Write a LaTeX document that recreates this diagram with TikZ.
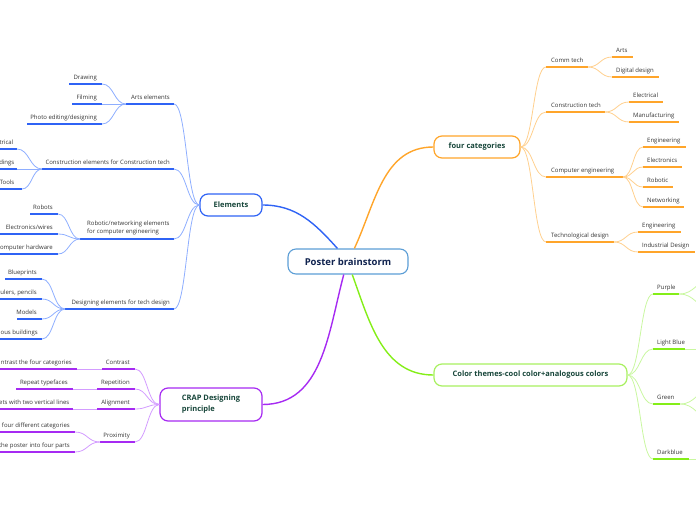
\documentclass[tikz,border=0pt]{standalone}
\usepackage{fontspec}
\setmainfont{Open Sans}
\usetikzlibrary{calc}
\definecolor{bl}{HTML}{2F63F5}
\definecolor{blL}{HTML}{8EAEFF}
\definecolor{pu}{HTML}{A62AF2}
\definecolor{puL}{HTML}{D39CFF}
\definecolor{orr}{HTML}{FFA52A}
\definecolor{orL}{HTML}{FFD08E}
\definecolor{gr}{HTML}{84EE18}
\definecolor{grB}{HTML}{A8F060}
\definecolor{grL}{HTML}{C9F7A0}
\definecolor{cen}{HTML}{5C9ED6}
\definecolor{txt}{HTML}{333333}
\definecolor{ntxt}{HTML}{17463A}
\definecolor{ctxt}{HTML}{10234F}
\tikzset{
  lbl/.style={font=\fontsize{6}{8}\selectfont, text=txt, inner sep=0pt},
  topic/.style={draw, rounded corners=8pt, fill=white, line width=1.2pt,
    font=\fontsize{7.5}{11}\selectfont\bfseries, text=ntxt, inner sep=0pt, align=left},
  ul/.style={line width=2pt},
  fine/.style={line width=0.8pt},
  mainb/.style={line width=1.4pt},
  sc/.style={to path={let \p1=(\tikztostart),\p2=(\tikztotarget) in
    .. controls ({(\x1+\x2)/2},\y1) and ({(\x1+\x2)/2},\y2) .. (\tikztotarget)}}
}
% left item: name, L, R, y, text right x, color, text
\newcommand\litem[7]{%
  \coordinate (#1-l) at (#2,#4);
  \coordinate (#1-r) at (#3,#4);
  \draw[ul,#6] (#1-l) -- (#1-r);
  \node[lbl,anchor=base east] (#1) at (#5,{#4-4.6}) {#7};}
% right item: name, L, R, y, text left x, color, text
\newcommand\ritem[7]{%
  \coordinate (#1-l) at (#2,#4);
  \coordinate (#1-r) at (#3,#4);
  \draw[ul,#6] (#1-l) -- (#1-r);
  \node[lbl,anchor=base west] (#1) at (#5,{#4-4.8}) {#7};}
\begin{document}
\begin{tikzpicture}[x=1pt,y=-1pt]
\useasboundingbox (0,0) rectangle (696,520);
\clip (0,0) rectangle (696,520);

% ---------- topic nodes ----------
\node[topic, draw=cen, line width=1.1pt, minimum width=120, minimum height=25,
  font=\fontsize{9.5}{11}\selectfont\bfseries, text=ctxt] (root) at (348,261.5) {Poster brainstorm};
\node[topic, draw=bl, minimum width=62, minimum height=22] (elem) at (231,205) {Elements};
\node[topic, draw=orr, minimum width=86, minimum height=22] (four) at (477,147) {four categories};
\node[topic, draw=grB, minimum width=193, minimum height=22] (color) at (530.5,375) {Color themes-cool color+analogous colors};
\node[topic, draw=pu, minimum width=102, minimum height=33] (crap) at (211,404.5) {CRAP Designing\\principle};

% ---------- main branches ----------
\draw[mainb,bl] (root.129) to[out=132,in=0] (elem.east);
\draw[mainb,orr] (root.64) to[out=65,in=180] (four.west);
\draw[mainb,pu] (root.-108) to[out=-105,in=0] (crap.east);
\draw[mainb,gr] (root.-72) to[out=-70,in=180] (color.west);

% ---------- Elements ----------
\litem{arts}{126}{174}{104}{170}{bl}{Arts elements}
\litem{draw}{69}{102}{84}{97}{bl}{Drawing}
\litem{film}{72}{102}{104}{97}{bl}{Filming}
\litem{photo}{27}{102}{124}{97}{bl}{Photo editing/designing}
\litem{cons}{42}{174}{169}{170}{bl}{Construction elements for Construction tech}
\litem{elec}{-20}{17}{149}{13.5}{bl}{trical}
\litem{build}{-20}{17}{169}{14.5}{bl}{dings}
\litem{tools}{-20}{22}{189}{14.5}{bl}{Tools}
\coordinate (robo-l) at (80,239);
\coordinate (robo-r) at (174,239);
\draw[ul,bl] (robo-l) -- (robo-r);
\node[lbl,anchor=south west,align=left] (robo) at (87,235.6) {Robotic/networking elements\\for computer engineering};
\litem{robots}{30}{58}{214}{53}{bl}{Robots}
\litem{wires}{-20}{58}{234}{53}{bl}{Electronics/wires}
\litem{hard}{-20}{58}{254}{53}{bl}{omputer hardware}
\litem{des}{65}{174}{309}{170}{bl}{Designing elements for tech design}
\litem{blue}{5}{42}{279}{37}{bl}{Blueprints}
\litem{rul}{-20}{42}{299}{37}{bl}{ulers, pencils}
\litem{mod}{17}{42}{319}{37}{bl}{Models}
\litem{fam}{-20}{42}{339}{38}{bl}{ous buildings}

\begin{scope}[fine,blL]
\draw (elem.west) to[sc] (arts-r);
\draw (elem.west) to[sc] (cons-r);
\draw (elem.west) to[sc] (robo-r);
\draw (elem.west) to[sc] (des-r);
\draw (draw-r) to[sc] (arts-l);
\draw (film-r) to[sc] (arts-l);
\draw (photo-r) to[sc] (arts-l);
\draw (elec-r) to[sc] (cons-l);
\draw (build-r) to[sc] (cons-l);
\draw (tools-r) to[sc] (cons-l);
\draw (robots-r) to[sc] (robo-l);
\draw (wires-r) to[sc] (robo-l);
\draw (hard-r) to[sc] (robo-l);
\draw (blue-r) to[sc] (des-l);
\draw (rul-r) to[sc] (des-l);
\draw (mod-r) to[sc] (des-l);
\draw (fam-r) to[sc] (des-l);
\end{scope}

% ---------- CRAP ----------
\litem{con}{102}{135}{369}{130}{pu}{Contrast}
\litem{conc}{-20}{77}{369}{72}{pu}{ntrast the four categories}
\litem{rep}{97}{135}{389}{130}{pu}{Repetition}
\litem{repc}{16}{73}{389}{68}{pu}{Repeat typefaces}
\litem{ali}{97}{135}{409}{130}{pu}{Alignment}
\litem{alic}{-20}{73}{409}{69.5}{pu}{ets with two vertical lines}
\litem{pro}{100}{135}{442}{130}{pu}{Proximity}
\litem{proa}{-20}{75}{432}{70}{pu}{four different categories}
\litem{prob}{-20}{75}{452}{70}{pu}{the poster into four parts}

\begin{scope}[fine,puL]
\draw (crap.west) to[sc] (con-r);
\draw (crap.west) to[sc] (rep-r);
\draw (crap.west) to[sc] (ali-r);
\draw (crap.west) to[sc] (pro-r);
\draw (conc-r) -- (con-l);
\draw (repc-r) -- (rep-l);
\draw (alic-r) -- (ali-l);
\draw (proa-r) to[sc] (pro-l);
\draw (prob-r) to[sc] (pro-l);
\end{scope}

% ---------- four categories ----------
\ritem{comm}{546}{588}{67}{551}{orr}{Comm tech}
\ritem{arts2}{612}{633}{57}{616}{orr}{Arts}
\ritem{digi}{612}{659}{77}{616}{orr}{Digital design}
\ritem{ctech}{546}{605}{112}{551}{orr}{Construction tech}
\ritem{elec2}{629}{663}{102}{633}{orr}{Electrical}
\ritem{manu}{629}{679}{122}{633}{orr}{Manufacturing}
\ritem{comp}{546}{623}{177}{551}{orr}{Computer engineering}
\ritem{eng1}{643}{686}{147}{647}{orr}{Engineering}
\ritem{elx}{643}{682}{167}{647}{orr}{Electronics}
\ritem{robc}{643}{673}{187}{647}{orr}{Robotic}
\ritem{net}{643}{684}{207}{647}{orr}{Networking}
\ritem{tdes}{546}{614}{242}{551}{orr}{Technological design}
\ritem{eng2}{638}{681}{232}{642}{orr}{Engineering}
\ritem{ind}{638}{695}{252}{642}{orr}{Industrial Design}

\begin{scope}[fine,orL]
\draw (four.east) to[sc] (comm-l);
\draw (four.east) to[sc] (ctech-l);
\draw (four.east) to[sc] (comp-l);
\draw (four.east) to[sc] (tdes-l);
\draw (comm-r) to[sc] (arts2-l);
\draw (comm-r) to[sc] (digi-l);
\draw (ctech-r) to[sc] (elec2-l);
\draw (ctech-r) to[sc] (manu-l);
\draw (comp-r) to[sc] (eng1-l);
\draw (comp-r) to[sc] (elx-l);
\draw (comp-r) to[sc] (robc-l);
\draw (comp-r) to[sc] (net-l);
\draw (tdes-r) to[sc] (eng2-l);
\draw (tdes-r) to[sc] (ind-l);
\end{scope}

% ---------- color themes ----------
\ritem{pur}{653}{679}{294}{657}{gr}{Purple}
\ritem{lbl}{653}{685}{349}{657}{gr}{Light Blue}
\ritem{grn}{653}{680}{404}{657}{gr}{Green}
\ritem{dbl}{653}{689}{459}{657}{gr}{Darkblue}
\coordinate (pur-a) at (712,280);
\coordinate (pur-b) at (712,308);
\coordinate (lbl-a) at (712,349);
\coordinate (grn-a) at (712,390);
\coordinate (grn-b) at (712,418);
\coordinate (dbl-a) at (712,459);

\begin{scope}[fine,grL]
\draw (color.east) to[sc] (pur-l);
\draw (color.east) to[sc] (lbl-l);
\draw (color.east) to[sc] (grn-l);
\draw (color.east) to[sc] (dbl-l);
\draw (pur-r) to[sc] (pur-a);
\draw (pur-r) to[sc] (pur-b);
\draw (lbl-r) -- (lbl-a);
\draw (grn-r) to[sc] (grn-a);
\draw (grn-r) to[sc] (grn-b);
\draw (dbl-r) -- (dbl-a);
\end{scope}
\end{tikzpicture}
\end{document}
